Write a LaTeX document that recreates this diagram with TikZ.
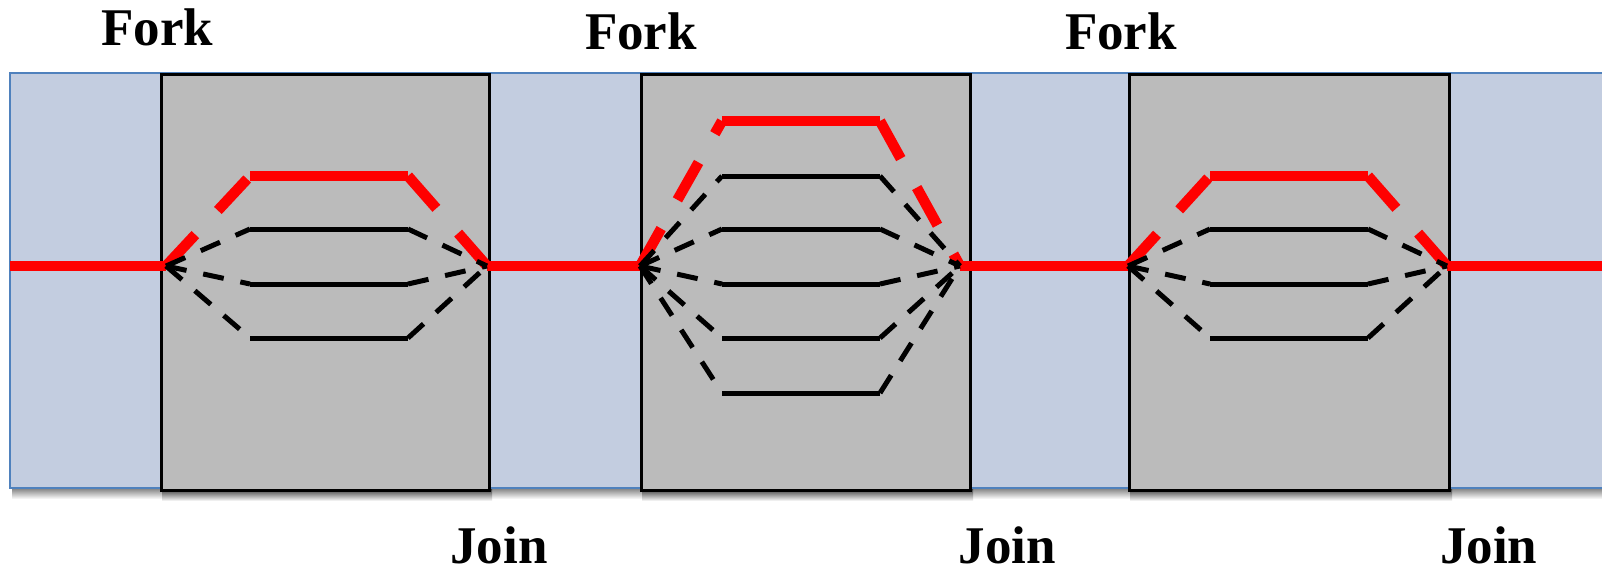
\documentclass[tikz,border=0pt]{standalone}
\usepackage{fontspec}
\setmainfont{Liberation Serif}
\definecolor{bandfill}{RGB}{195,205,224}
\definecolor{bandedge}{RGB}{79,129,189}
\definecolor{regionfill}{RGB}{187,187,187}
\definecolor{critical}{RGB}{255,0,0}
\tikzset{
  band/.style={fill=bandfill, draw=bandedge, line width=2pt},
  region/.style={fill=regionfill, draw=black, line width=2.5pt, inner sep=0pt,
                 anchor=north west},
  seqline/.style={draw=critical, line width=10.5pt},
  critslant/.style={draw=critical, line width=10.5pt, dash pattern=on 43pt off 33pt},
  taskline/.style={draw=black, line width=5pt},
  taskslant/.style={draw=black, line width=5pt, dash pattern=on 21pt off 17pt},
  wordlabel/.style={font=\bfseries\fontsize{53}{60}\selectfont, inner sep=0pt, anchor=base},
  bandshadow/.style={top color=black!50, bottom color=white, draw=none},
  regionshadow/.style={top color=black!75, bottom color=white, draw=none},
}
\begin{document}
\begin{tikzpicture}[x=1pt,y=-1pt]
\useasboundingbox (0,0) rectangle (1602,574);

% soft shadows under the band and the three parallel regions
\shade[bandshadow] (12,488) rectangle (1602,499);
\foreach \xl/\xr in {160/488, 640/969, 1128/1448}
  \shade[regionshadow] (\xl+2,489) rectangle (\xr+4,501);

% the program band
\path[band] (10,73) rectangle (1614,488);

% parallel regions
\node[region, minimum width=328pt, minimum height=416pt] (box1) at (160,73) {};
\node[region, minimum width=329pt, minimum height=416pt] (box2) at (640,73) {};
\node[region, minimum width=320pt, minimum height=416pt] (box3) at (1128,73) {};

% fork and join points on the main thread
\coordinate (start) at (10,266);
\coordinate (finish) at (1602,266);
\coordinate (f1) at (166,266);  \coordinate (j1) at (487,266);
\coordinate (f2) at (640,266);  \coordinate (j2) at (960,266);
\coordinate (f3) at (1128,266); \coordinate (j3) at (1447,266);

% sequential parts of the main thread
\draw[seqline] (start) -- (f1);
\draw[seqline] (j1) -- (f2);
\draw[seqline] (j2) -- (f3);
\draw[seqline] (j3) -- (finish);

% threads inside each region: the critical one in red, the others in black
\foreach \s/\xa/\xb/\ry/\rows in {1/250/408/176/{229,284,338},
                                 2/722/880/121/{176,229,284,338,393},
                                 3/1210/1368/176/{229,284,338}} {
  \coordinate (s\s r0) at (\xa,\ry);
  \coordinate (e\s r0) at (\xb,\ry);
  \draw[critslant] (f\s) -- (s\s r0);
  \draw[seqline] (s\s r0) -- (e\s r0);
  \draw[critslant] (e\s r0) -- (j\s);
  \foreach \y [count=\k] in \rows {
    \coordinate (s\s r\k) at (\xa,\y);
    \coordinate (e\s r\k) at (\xb,\y);
    \draw[taskslant] (f\s) -- (s\s r\k);
    \draw[taskline] (s\s r\k) -- (e\s r\k);
    \draw[taskslant] (e\s r\k) -- (j\s);
  }
}

% labels
\node[wordlabel] (fork1) at (157.5,45) {Fork};
\node[wordlabel] (fork2) at (641,49.3) {Fork};
\node[wordlabel] (fork3) at (1121,49.3) {Fork};
\node[wordlabel] (join1) at (499,563) {Join};
\node[wordlabel] (join2) at (1007.5,563) {Join};
\node[wordlabel] (join3) at (1488.7,563) {Join};
\end{tikzpicture}
\end{document}
